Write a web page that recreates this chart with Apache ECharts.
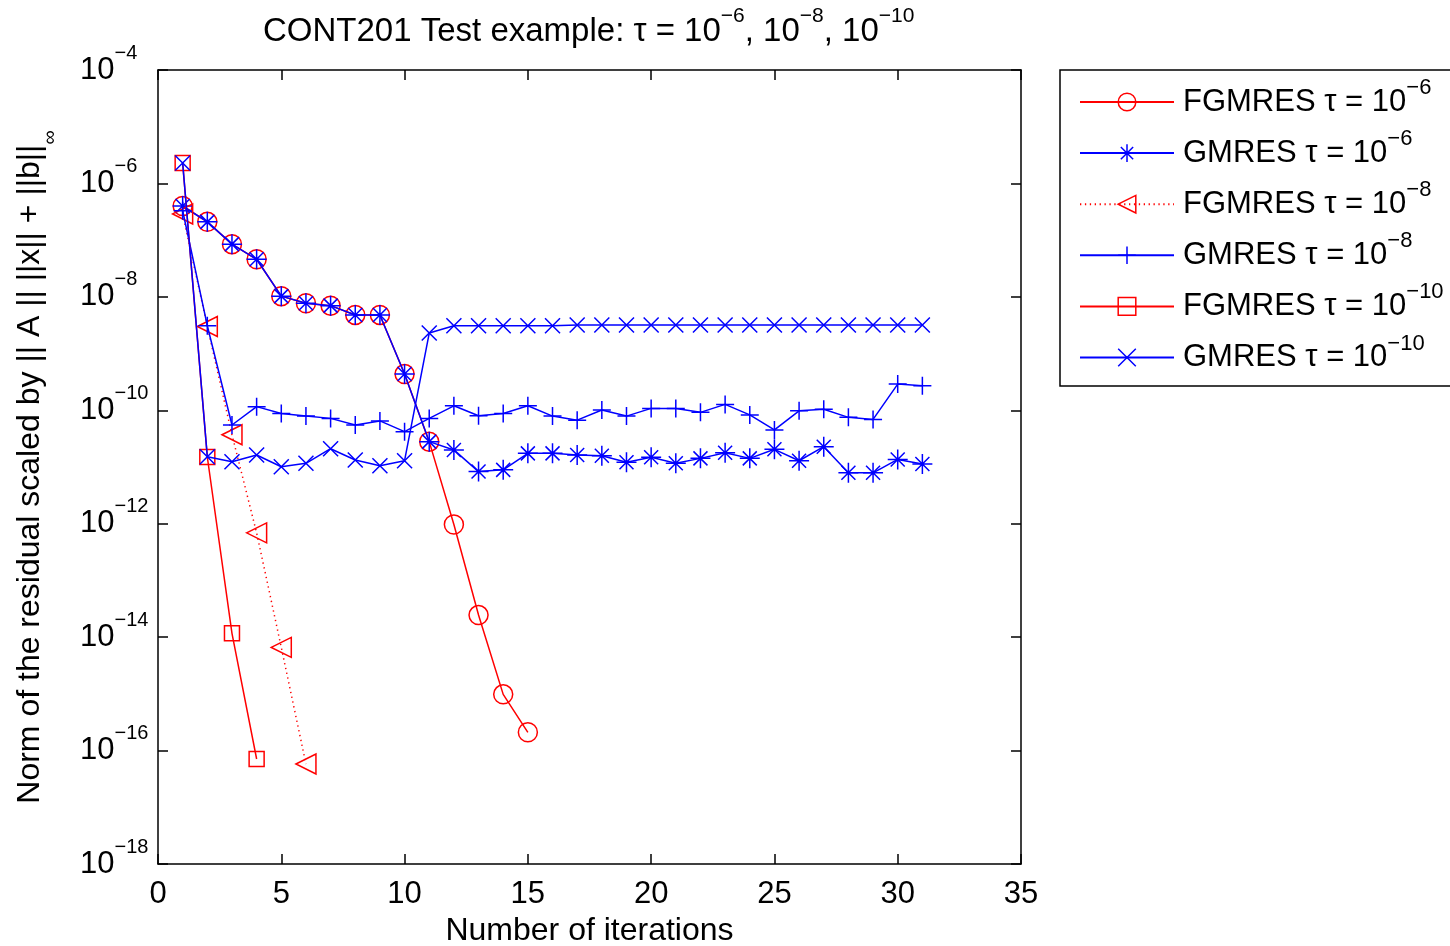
<!DOCTYPE html>
<html><head><meta charset="utf-8">
<script src="https://cdn.jsdelivr.net/npm/echarts@6/dist/echarts.min.js"></script>
<style>html,body{margin:0;padding:0;background:#fff}#c{width:1450px;height:946px}</style>
</head><body><div id="c"></div>
<script>
// ---- data (residual norms per iteration, iteration = index + 1) ----
const fgmres6 = [4.0e-7, 2.1e-7, 8.5e-8, 4.6e-8, 1.03e-8, 7.7e-9, 7.0e-9, 4.8e-9, 4.8e-9, 4.35e-10, 2.8e-11, 9.7e-13, 2.45e-14, 9.8e-16, 2.1e-16];
const gmres6 = [4.0e-7, 2.1e-7, 8.5e-8, 4.6e-8, 1.03e-8, 7.7e-9, 7.0e-9, 4.8e-9, 4.8e-9, 4.35e-10, 2.8e-11, 2.0e-11, 8.3e-12, 8.9e-12, 1.74e-11, 1.74e-11, 1.63e-11, 1.58e-11, 1.21e-11, 1.48e-11, 1.16e-11, 1.42e-11, 1.79e-11, 1.42e-11, 2.05e-11, 1.29e-11, 2.28e-11, 7.9e-12, 7.9e-12, 1.36e-11, 1.13e-11];
const fgmres8 = [2.9e-7, 3.0e-9, 3.7e-11, 6.9e-13, 6.6e-15, 5.8e-17];
const gmres8 = [3.3e-7, 3.1e-9, 5.5e-11, 1.16e-10, 8.8e-11, 7.9e-11, 7.2e-11, 5.5e-11, 6.5e-11, 4.2e-11, 7.2e-11, 1.2e-10, 8.0e-11, 8.8e-11, 1.2e-10, 7.9e-11, 6.7e-11, 1.01e-10, 7.9e-11, 1.08e-10, 1.08e-10, 9.2e-11, 1.27e-10, 8.3e-11, 4.5e-11, 9.8e-11, 1.04e-10, 7.5e-11, 6.9e-11, 2.9e-10, 2.7e-10];
const fgmres10 = [2.3e-6, 1.5e-11, 1.17e-14, 7.1e-17];
const gmres10 = [2.3e-6, 1.52e-11, 1.24e-11, 1.63e-11, 1.01e-11, 1.16e-11, 2.1e-11, 1.33e-11, 1.05e-11, 1.29e-11, 2.3e-9, 3.1e-9, 3.1e-9, 3.1e-9, 3.1e-9, 3.1e-9, 3.2e-9, 3.2e-9, 3.2e-9, 3.2e-9, 3.2e-9, 3.2e-9, 3.2e-9, 3.2e-9, 3.2e-9, 3.2e-9, 3.2e-9, 3.2e-9, 3.2e-9, 3.2e-9, 3.2e-9];

const methods = ['FGMRES', 'GMRES', 'FGMRES', 'GMRES', 'FGMRES', 'GMRES'];
const tauExp = ['−6', '−6', '−8', '−8', '−10', '−10'];
const titleExps = ['−6', '−8', '−10'];
const xMin = 0, xMax = 35, xStep = 5;
const yMinExp = -18, yMaxExp = -4, yStepExp = 2;

// ---- rendering ----
const FONT = '"Liberation Sans", Arial, Helvetica, sans-serif';
const RED = '#ff0000', BLUE = '#0000ff';
const SYM_AST = 'path://M0,10L20,10M10,0L10,20M3,3L17,17M3,17L17,3';
const SYM_PLUS = 'path://M0,10L20,10M10,0L10,20';
const SYM_X = 'path://M0,0L20,20M0,20L20,0';
const SYM_TRI = 'path://M0,10L20,0L20,20Z';

function toPts(vals) { return vals.map((v, i) => [i + 1, Math.log10(v)]); }
const seriesVals = [fgmres6, gmres6, fgmres8, gmres8, fgmres10, gmres10];
const symbols = ['circle', SYM_AST, SYM_TRI, SYM_PLUS, 'rect', SYM_X];
const sizes = [19, 20, 20, 18, 15, 15];
const colors = [RED, BLUE, RED, BLUE, RED, BLUE];
const lineTypes = ['solid', 'solid', [1.3, 3.6], 'solid', 'solid', 'solid'];
const names = methods.map((m, i) => m + ' τ = 10^' + tauExp[i]);

const series = seriesVals.map((vals, i) => ({
  name: names[i], type: 'line', data: toPts(vals),
  symbol: symbols[i], symbolSize: sizes[i],
  showAllSymbol: true,
  lineStyle: { color: colors[i], width: 1.5, type: lineTypes[i] },
  itemStyle: { color: 'rgba(0,0,0,0)', borderColor: colors[i], borderWidth: 1.5 },
  emphasis: { disabled: true }, silent: true, clip: false, z: 2 + i
}));

const tickLen = 10;
const chart = echarts.init(document.getElementById('c'), null, { renderer: 'canvas' });
chart.setOption({
  animation: false,
  backgroundColor: '#fff',
  textStyle: { fontFamily: FONT, color: '#000' },
  title: {
    left: 263, top: 6, padding: 0,
    text: '{b|CONT201 Test example: τ = 10}{s|' + titleExps[0] + '}{b|, 10}{s|' + titleExps[1] + '}{b|, 10}{s|' + titleExps[2] + '}',
    textStyle: {
      fontFamily: FONT, color: '#000', fontWeight: 'normal',
      rich: {
        b: { fontFamily: FONT, fontSize: 33, fontWeight: 'normal', padding: [9, 0, 9, 0], verticalAlign: 'middle', color: '#000' },
        s: { fontFamily: FONT, fontSize: 21, fontWeight: 'normal', verticalAlign: 'top', color: '#000' }
      }
    }
  },
  legend: {
    orient: 'vertical', left: 1060, top: 70, padding: [7, 20, 13, 19],
    itemGap: 10.6, itemWidth: 94, itemHeight: 22,
    borderColor: '#000', borderWidth: 1.5, backgroundColor: '#fff',
    selectedMode: false,
    data: names,
    itemStyle: { borderWidth: 1.5 },
    formatter: (name) => { const i = names.indexOf(name); return '{b|' + methods[i] + ' τ = 10}{s|' + tauExp[i] + '}'; },
    textStyle: {
      fontFamily: FONT, color: '#000',
      rich: {
        b: { fontFamily: FONT, fontSize: 31, padding: [9.5, 0, 9.5, 4], verticalAlign: 'middle', color: '#000' },
        s: { fontFamily: FONT, fontSize: 22, verticalAlign: 'top', color: '#000' }
      }
    }
  },
  grid: { left: 158, right: 429, top: 70, bottom: 82, show: false, outerBoundsMode: 'none', containLabel: false },
  xAxis: [
    { type: 'value', position: 'bottom', min: xMin, max: xMax, interval: xStep,
      axisLine: { show: true, onZero: false, lineStyle: { color: '#000', width: 1.5 } },
      axisTick: { show: true, inside: true, length: tickLen, lineStyle: { color: '#000', width: 1.5 } },
      axisLabel: { show: true, margin: 15, fontSize: 31, color: '#000', fontFamily: FONT },
      splitLine: { show: false },
      name: 'Number of iterations', nameLocation: 'middle', nameGap: 39,
      nameTextStyle: { fontSize: 32, color: '#000', fontFamily: FONT } },
    { type: 'value', position: 'top', min: xMin, max: xMax, interval: xStep,
      axisLine: { show: true, onZero: false, lineStyle: { color: '#000', width: 1.5 } },
      axisTick: { show: true, inside: true, length: tickLen, lineStyle: { color: '#000', width: 1.5 } },
      axisLabel: { show: false }, splitLine: { show: false } }
  ],
  yAxis: [
    { type: 'value', position: 'left', min: yMinExp, max: yMaxExp, interval: yStepExp,
      axisLine: { show: true, onZero: false, lineStyle: { color: '#000', width: 1.5 } },
      axisTick: { show: true, inside: true, length: tickLen, lineStyle: { color: '#000', width: 1.5 } },
      axisLabel: {
        show: true, margin: 78, align: 'left', fontFamily: FONT, color: '#000',
        formatter: (v) => '{b|10}{s|−' + Math.abs(v) + '}',
        rich: {
          b: { fontFamily: FONT, fontSize: 31, padding: [11.5, 0, 11.5, 0], verticalAlign: 'middle', color: '#000' },
          s: { fontFamily: FONT, fontSize: 20, verticalAlign: 'top', color: '#000' }
        }
      },
      splitLine: { show: false },
      name: '{b|Norm of the residual scaled by || A || ||x|| + ||b||}{u|∞}',
      nameLocation: 'middle', nameGap: 98, nameRotate: 90,
      nameTextStyle: {
        fontFamily: FONT, color: '#000',
        rich: {
          b: { fontFamily: FONT, fontSize: 32, verticalAlign: 'top', color: '#000' },
          u: { fontFamily: FONT, fontSize: 20, padding: [26, 0, 0, 0], verticalAlign: 'bottom', color: '#000' }
        }
      } },
    { type: 'value', position: 'right', min: yMinExp, max: yMaxExp, interval: yStepExp,
      axisLine: { show: true, onZero: false, lineStyle: { color: '#000', width: 1.5 } },
      axisTick: { show: true, inside: true, length: tickLen, lineStyle: { color: '#000', width: 1.5 } },
      axisLabel: { show: false }, splitLine: { show: false } }
  ],
  series: series
});
</script>
</body></html>
